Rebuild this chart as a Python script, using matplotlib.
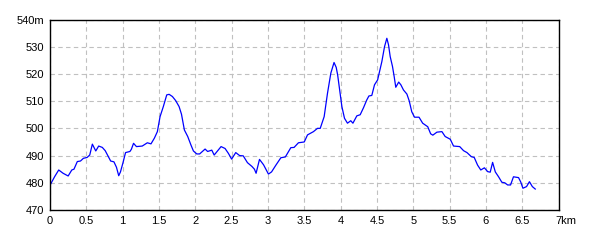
import matplotlib
matplotlib.use("Agg")
import matplotlib.pyplot as plt
from matplotlib.transforms import ScaledTranslation

distance_km = [0.01, 0.065, 0.12, 0.18, 0.25, 0.30, 0.33, 0.376, 0.42, 0.46, 0.51, 0.547, 0.583,
               0.63, 0.67, 0.72, 0.76, 0.80, 0.835, 0.88, 0.915, 0.946, 0.97, 1.005, 1.04, 1.10,
               1.12, 1.15, 1.19, 1.27, 1.34, 1.39, 1.437, 1.478, 1.515, 1.56, 1.607, 1.64, 1.685,
               1.73, 1.777, 1.81, 1.85, 1.896, 1.94, 1.974, 2.02, 2.06, 2.135, 2.17, 2.227, 2.26,
               2.355, 2.41, 2.456, 2.50, 2.557, 2.61, 2.66, 2.718, 2.78, 2.814, 2.837, 2.884,
               2.94, 3.007, 3.05, 3.11, 3.178, 3.24, 3.315, 3.36, 3.42, 3.50, 3.545, 3.627,
               3.682, 3.72, 3.774, 3.82, 3.866, 3.91, 3.94, 3.96, 3.99, 4.018, 4.054, 4.095,
               4.14, 4.17, 4.224, 4.27, 4.316, 4.36, 4.39, 4.43, 4.467, 4.51, 4.536, 4.568,
               4.605, 4.637, 4.66, 4.683, 4.715, 4.738, 4.76, 4.80, 4.83, 4.866, 4.913, 4.945,
               4.98, 5.018, 5.08, 5.13, 5.2, 5.24, 5.27, 5.326, 5.395, 5.44, 5.51, 5.555, 5.64,
               5.693, 5.74, 5.80, 5.84, 5.886, 5.93, 5.98, 6.025, 6.06, 6.093, 6.13, 6.175,
               6.22, 6.26, 6.30, 6.34, 6.38, 6.45, 6.48, 6.51, 6.56, 6.60, 6.64, 6.68]
elevation_m = [479.6, 482.3, 484.7, 483.5, 482.5, 484.7, 485.0, 487.8, 488.0, 489.0, 489.3, 490.2,
               494.2, 491.7, 493.5, 493.0, 491.8, 489.8, 488.0, 487.7, 485.7, 482.6, 484.0,
               487.4, 491.1, 491.5, 492.3, 494.5, 493.3, 493.5, 494.7, 494.3, 496.4, 498.8,
               504.3, 508.0, 512.3, 512.5, 511.7, 510.2, 508.0, 505.2, 499.4, 497.0, 493.9,
               491.7, 490.6, 490.6, 492.4, 491.5, 492.0, 490.2, 493.3, 492.6, 490.8, 488.7,
               491.1, 490.0, 489.9, 487.4, 486.0, 485.0, 483.5, 488.6, 486.6, 483.2, 484.0,
               486.5, 489.2, 489.5, 492.9, 493.0, 494.7, 495.0, 497.6, 498.8, 500.0, 500.0,
               504.3, 512.9, 520.3, 524.2, 522.4, 519.6, 513.5, 508.0, 503.7, 501.9, 502.8,
               501.9, 504.6, 505.0, 507.6, 510.4, 511.9, 512.1, 516.0, 517.8, 520.8, 524.5,
               530.0, 533.1, 530.7, 526.4, 522.7, 519.0, 515.1, 517.0, 516.0, 514.1, 512.6,
               510.1, 506.1, 504.1, 504.1, 501.9, 500.6, 498.0, 497.5, 498.6, 498.8, 497.0,
               496.0, 493.5, 493.3, 491.8, 491.1, 489.6, 489.3, 486.5, 484.7, 485.5, 484.1,
               483.9, 487.5, 484.0, 482.2, 480.2, 480.0, 479.2, 479.2, 482.2, 481.9, 480.3,
               478.0, 478.6, 480.4, 478.6, 477.7]

x_ticks = [0, 0.5, 1, 1.5, 2, 2.5, 3, 3.5, 4, 4.5, 5, 5.5, 6, 6.5, 7]
x_tick_labels = ["0", "0.5", "1", "1.5", "2", "2.5", "3", "3.5", "4", "4.5", "5", "5.5", "6", "6.5", "7km"]
y_ticks = [470, 480, 490, 500, 510, 520, 530, 540]
y_tick_labels = ["470", "480", "490", "500", "510", "520", "530", "540m"]

plt.rcParams['font.family'] = ['Liberation Sans', 'DejaVu Sans']

fig = plt.figure(figsize=(6, 2.4), dpi=100)
ax = fig.add_axes([50 / 600, 1 - 210 / 240, 508.5 / 600, 190.5 / 240])
ax.plot(distance_km, elevation_m, color="#0000ff", linewidth=0.9)
ax.set_xlim(0, 7)
ax.set_ylim(470, 540)
ax.set_xticks(x_ticks)
ax.set_xticklabels(x_tick_labels, fontsize=8)
ax.set_yticks(y_ticks)
ax.set_yticklabels(y_tick_labels, fontsize=8)
ax.tick_params(length=0, pad=4.5)
ax.grid(True, color="#c0c0c0", linestyle=(0, (4, 3)), linewidth=0.8)
for s in ax.spines.values():
    s.set_color("black")
    s.set_linewidth(1.0)
lbl = ax.get_xticklabels()[-1]
lbl.set_horizontalalignment("left")
lbl.set_transform(lbl.get_transform() + ScaledTranslation(-3 / 100, 0, fig.dpi_scale_trans))
fig.savefig("out.png", dpi=100)
